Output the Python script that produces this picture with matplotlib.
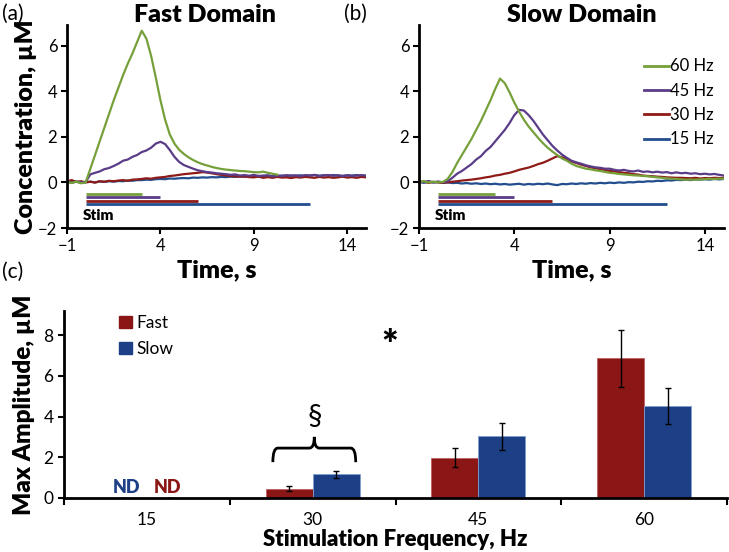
import numpy as np
import matplotlib
matplotlib.use("Agg")
import matplotlib.pyplot as plt
from matplotlib.patches import Patch
from matplotlib.lines import Line2D
from matplotlib.path import Path
from matplotlib.patches import PathPatch

plt.rcParams['font.family'] = ['Lato', 'DejaVu Sans']

# ---------------- data ----------------
t = np.arange(-1, 15.001, 0.25)
nan = np.nan

fast_60 = [0.02, -0.03, 0.04, -0.04,
           0.00, 0.60, 1.20, 1.80,
           2.40, 3.00, 3.60, 4.15,
           4.70, 5.20, 5.65, 6.15,
           6.65, 6.30, 5.55, 4.60,
           3.60, 2.75, 2.10, 1.70,
           1.43, 1.25, 1.10, 0.98,
           0.88, 0.80, 0.74, 0.68,
           0.63, 0.59, 0.56, 0.54,
           0.52, 0.50, 0.49, 0.47,
           0.45, 0.44, 0.47, 0.42,
           0.38, 0.34, nan, nan,
           nan, nan, nan, nan,
           nan, nan, nan, nan,
           nan, nan, nan, nan,
           nan, nan, nan, nan,
           nan]
fast_45 = [0.05, -0.02, 0.04, 0.00,
           0.02, 0.35, 0.42, 0.48,
           0.58, 0.63, 0.72, 0.82,
           0.95, 1.00, 1.12, 1.20,
           1.33, 1.40, 1.52, 1.70,
           1.78, 1.68, 1.42, 1.12,
           0.90, 0.76, 0.68, 0.60,
           0.53, 0.49, 0.45, 0.43,
           0.40, 0.38, 0.36, 0.33,
           0.35, 0.30, 0.32, 0.29,
           0.33, 0.28, 0.30, 0.31,
           0.26, 0.30, 0.28, 0.32,
           0.29, 0.31, 0.27, 0.32,
           0.30, 0.33, 0.28, 0.31,
           0.32, 0.29, 0.31, 0.27,
           0.31, 0.28, 0.30, 0.32,
           0.29]
fast_30 = [0.05, 0.10, 0.02, 0.05,
           0.00, 0.03, -0.01, 0.05,
           0.03, 0.07, 0.05, 0.08,
           0.10, 0.07, 0.12, 0.13,
           0.15, 0.18, 0.16, 0.20,
           0.22, 0.24, 0.28, 0.30,
           0.33, 0.36, 0.38, 0.40,
           0.42, 0.45, 0.43, 0.40,
           0.36, 0.33, 0.30, 0.28,
           0.27, 0.25, 0.26, 0.23,
           0.22, 0.25, 0.20, 0.23,
           0.20, 0.24, 0.21, 0.22,
           0.19, 0.23, 0.21, 0.24,
           0.22, 0.20, 0.24, 0.21,
           0.23, 0.20, 0.22, 0.25,
           0.21, 0.23, 0.20, 0.24,
           0.22]
fast_15 = [0.02, 0.00, 0.03, -0.02,
           0.01, 0.03, 0.00, 0.04,
           0.02, 0.05, 0.03, 0.06,
           0.05, 0.08, 0.07, 0.10,
           0.10, 0.12, 0.11, 0.14,
           0.15, 0.14, 0.17, 0.16,
           0.18, 0.19, 0.18, 0.21,
           0.20, 0.22, 0.21, 0.23,
           0.22, 0.24, 0.23, 0.25,
           0.24, 0.26, 0.25, 0.27,
           0.26, 0.28, 0.27, 0.29,
           0.28, 0.27, 0.30, 0.28,
           0.30, 0.29, 0.31, 0.28,
           0.30, 0.32, 0.29, 0.31,
           0.30, 0.32, 0.30, 0.29,
           0.31, 0.30, 0.32, 0.29,
           0.30]

slow_60 = [0.02, 0.05, 0.00, 0.03,
           0.00, 0.02, 0.15, 0.45,
           0.85, 1.20, 1.55, 1.90,
           2.30, 2.70, 3.15, 3.60,
           4.10, 4.55, 4.35, 3.95,
           3.50, 3.10, 2.75, 2.45,
           2.20, 1.95, 1.72, 1.52,
           1.35, 1.20, 1.05, 0.95,
           0.82, 0.72, 0.66, 0.60,
           0.57, 0.53, 0.50, 0.46,
           0.42, 0.40, 0.37, 0.35,
           0.33, 0.31, 0.30, 0.28,
           0.27, 0.24, 0.22, 0.20,
           0.18, 0.16, 0.15, 0.13,
           0.12, 0.12, 0.12, 0.13,
           0.14, 0.15, 0.15, 0.16,
           0.16]
slow_45 = [0.05, 0.02, 0.06, 0.00,
           0.04, 0.00, 0.05, 0.20,
           0.38, 0.50, 0.65, 0.80,
           1.00, 1.15, 1.38, 1.55,
           1.80, 2.05, 2.30, 2.60,
           2.95, 3.18, 3.15, 2.95,
           2.70, 2.40, 2.10, 1.85,
           1.60, 1.40, 1.22, 1.08,
           0.95, 0.88, 0.82, 0.75,
           0.70, 0.66, 0.64, 0.60,
           0.60, 0.55, 0.52, 0.55,
           0.50, 0.48, 0.52, 0.46,
           0.48, 0.44, 0.47, 0.43,
           0.45, 0.40, 0.44, 0.40,
           0.42, 0.38, 0.40, 0.36,
           0.38, 0.35, 0.37, 0.33,
           0.30]
slow_30 = [0.00, 0.03, -0.02, 0.02,
           0.00, -0.02, 0.00, 0.03,
           0.05, 0.08, 0.10, 0.12,
           0.15, 0.18, 0.22, 0.25,
           0.30, 0.33, 0.38, 0.42,
           0.48, 0.55, 0.60, 0.65,
           0.72, 0.80, 0.86, 0.95,
           1.05, 1.15, 1.10, 1.02,
           0.92, 0.85, 0.78, 0.72,
           0.66, 0.62, 0.58, 0.55,
           0.50, 0.48, 0.45, 0.42,
           0.40, 0.36, 0.34, 0.30,
           0.28, 0.27, 0.25, 0.24,
           0.22, 0.21, 0.20, 0.20,
           0.19, 0.18, 0.20, 0.17,
           0.19, 0.18, 0.20, 0.19,
           0.20]
slow_15 = [0.02, -0.02, 0.03, 0.00,
           0.01, -0.02, 0.00, -0.03,
           -0.02, -0.05, -0.03, -0.06,
           -0.04, -0.07, -0.05, -0.08,
           -0.06, -0.09, -0.07, -0.10,
           -0.08, -0.06, -0.10, -0.07,
           -0.09, -0.06, -0.08, -0.05,
           -0.09, -0.12, -0.07, -0.08,
           -0.05, -0.07, -0.04, -0.06,
           -0.03, -0.05, -0.02, -0.04,
           -0.01, -0.03, 0.00, -0.02,
           0.01, 0.00, 0.03, 0.02,
           0.05, 0.04, 0.07, 0.06,
           0.09, 0.08, 0.11, 0.10,
           0.12, 0.10, 0.13, 0.12,
           0.14, 0.12, 0.15, 0.13,
           0.15]

freq_labels = ['60 Hz', '45 Hz', '30 Hz', '15 Hz']
stim_end = [3, 4, 6, 12]          # stimulation duration (s) per frequency
stim_start = 0

categories = ['15', '30', '45', '60']
fast_amp = [0.0, 0.45, 1.98, 6.85]
fast_err = [0.0, 0.13, 0.47, 1.40]
slow_amp = [0.0, 1.16, 3.02, 4.52]
slow_err = [0.0, 0.16, 0.67, 0.88]

# ---------------- styles ----------------
line_colors = ['#76A03A', '#5A3C88', '#8E1B17', '#234E8E']
fast_color = '#8B1616'
slow_color = '#1C3F86'
stim_y = [-0.50, -0.65, -0.80, -0.95]
HW = 'heavy'

fig = plt.figure(figsize=(7.29, 5.52), dpi=100)
W, H = 729, 552

def axes_px(l, r, top, bot):
    return fig.add_axes([l / W, 1 - bot / H, (r - l) / W, (bot - top) / H])

axA = axes_px(67, 366, 25, 228)
axB = axes_px(419, 724, 25, 228)
axC = axes_px(64, 727, 311, 498)

def style_trace_axis(ax):
    ax.set_xlim(-1, 15)
    ax.set_ylim(-2, 6.9)
    ax.set_xticks([-1, 4, 9, 14])
    ax.set_yticks([-2, 0, 2, 4, 6])
    for s in ['top', 'right']:
        ax.spines[s].set_visible(False)
    for s in ['left', 'bottom']:
        ax.spines[s].set_linewidth(2)
    ax.tick_params(direction='out', length=4, width=1.5, labelsize=12, pad=3)
    ax.set_xlabel('Time, s', fontsize=18, fontweight=HW, labelpad=4)

fast_series = [fast_60, fast_45, fast_30, fast_15]
slow_series = [slow_60, slow_45, slow_30, slow_15]

for ax, series in [(axA, fast_series), (axB, slow_series)]:
    # draw order: 15 Hz first (bottom), 60 Hz last
    for y, c in reversed(list(zip(series, line_colors))):
        ax.plot(t, y, color=c, lw=1.6)
    for end, yy, c in zip(stim_end, stim_y, line_colors):
        ax.hlines(yy, stim_start, end, color=c, lw=2)
    ax.text(stim_start - 0.15, -1.47, 'Stim', fontsize=11, fontweight=HW,
            ha='left', va='center')
    style_trace_axis(ax)

axA.set_ylabel('Concentration, µM', fontsize=18, fontweight=HW, labelpad=1)

handles = [Line2D([0], [0], color=c, lw=2) for c in line_colors]
axB.legend(handles, freq_labels, loc='upper right', bbox_to_anchor=(1.0, 0.885),
           frameon=False, fontsize=12, handlelength=1.5, handletextpad=0.1,
           labelspacing=0.5, borderaxespad=0.2)

fig.text(2 / W, 1 - 14 / H, '(a)', fontsize=15, va='center', ha='left')
fig.text(205 / W, 1 - 15 / H, 'Fast Domain', fontsize=18, fontweight=HW,
         va='center', ha='center')
fig.text(344 / W, 1 - 14 / H, '(b)', fontsize=15, va='center', ha='left')
fig.text(582 / W, 1 - 15 / H, 'Slow Domain', fontsize=18, fontweight=HW,
         va='center', ha='center')
fig.text(2 / W, 1 - 272 / H, '(c)', fontsize=15, va='center', ha='left')

# ---------------- bar chart ----------------
x = np.arange(len(categories))
bw = 0.284
axC.bar(x - bw / 2, fast_amp, bw, color=fast_color, edgecolor='#C06060', lw=0.6,
        yerr=fast_err, error_kw=dict(ecolor='black', elinewidth=1, capsize=2.5, capthick=1),
        label='Fast')
axC.bar(x + bw / 2, slow_amp, bw, color=slow_color, edgecolor='#7F9FCF', lw=0.6,
        yerr=slow_err, error_kw=dict(ecolor='black', elinewidth=1, capsize=2.5, capthick=1),
        label='Slow')
axC.set_xlim(-0.5, 3.5)
axC.set_ylim(0, 9.18)
axC.set_yticks([0, 2, 4, 6, 8])
axC.set_xticks(x)
axC.set_xticklabels(categories)
axC.set_xticks(np.arange(-0.5, 3.6, 1), minor=True)
axC.tick_params(axis='x', which='major', length=0, labelsize=12.5, pad=10)
axC.tick_params(axis='x', which='minor', length=5, width=1.5, direction='out')
axC.tick_params(axis='y', length=4, width=1.5, direction='out', labelsize=12.5)
for s in ['top', 'right']:
    axC.spines[s].set_visible(False)
for s in ['left', 'bottom']:
    axC.spines[s].set_linewidth(2)
axC.set_xlabel('Stimulation Frequency, Hz', fontsize=16, fontweight=HW, labelpad=1)
axC.set_ylabel('Max Amplitude, µM', fontsize=17.5, fontweight=HW, labelpad=6)

leg_handles = [Patch(color=fast_color), Patch(color=slow_color)]
axC.legend(leg_handles, ['Fast', 'Slow'], loc='upper left', bbox_to_anchor=(0.06, 1.063),
           frameon=False, fontsize=12.5, handlelength=0.7, handleheight=0.7,
           handletextpad=0.3, labelspacing=0.6)

axC.text(-0.12, 0.5, 'ND', color=slow_color, fontsize=13, fontweight=HW,
         ha='center', va='center')
axC.text(0.127, 0.5, 'ND', color=fast_color, fontsize=13, fontweight=HW,
         ha='center', va='center')
axC.text(1.467, 7.45, '*', fontsize=28, fontweight=HW, ha='center', va='center')
axC.text(1.01, 4.0, '§', fontsize=21, ha='center', va='center')

# curly brace over the 30 Hz pair
xl, xr, xm = 0.76, 1.26, 1.01
yb, yh, yp = 1.76, 2.45, 3.0
verts = [(xl, yb), (xl, yh), (xl + 0.03, yh),
         (xm - 0.03, yh), (xm, yh), (xm, yp),
         (xm, yh), (xm + 0.03, yh),
         (xr - 0.03, yh), (xr, yh), (xr, yb)]
codes = [Path.MOVETO, Path.CURVE3, Path.CURVE3,
         Path.LINETO, Path.CURVE3, Path.CURVE3,
         Path.CURVE3, Path.CURVE3,
         Path.LINETO, Path.CURVE3, Path.CURVE3]
axC.add_patch(PathPatch(Path(verts, codes), fill=False, lw=2, color='black'))

fig.savefig('out.png', dpi=100)
